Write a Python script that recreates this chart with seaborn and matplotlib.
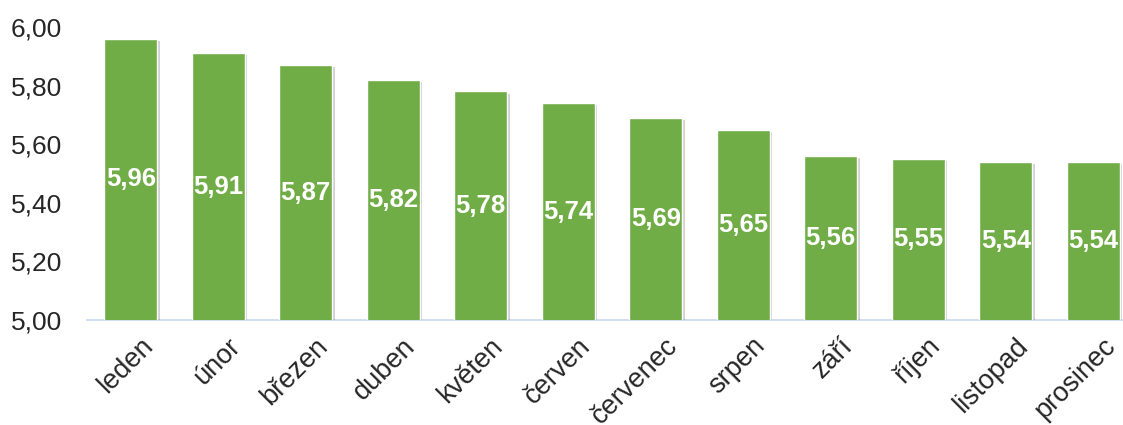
import matplotlib
matplotlib.use("Agg")
import matplotlib.pyplot as plt
import matplotlib.patheffects as pe
import seaborn as sns
import pandas as pd

months = ["leden", "únor", "březen", "duben", "květen", "červen",
          "červenec", "srpen", "září", "říjen", "listopad", "prosinec"]
values = [5.96, 5.91, 5.87, 5.82, 5.78, 5.74, 5.69, 5.65, 5.56, 5.55, 5.54, 5.54]
yticks = [5.00, 5.20, 5.40, 5.60, 5.80, 6.00]

sns.set_style("white")
plt.rcParams["font.family"] = ["Liberation Sans", "DejaVu Sans"]

df = pd.DataFrame({"month": months, "value": values})

fig = plt.figure(figsize=(11.23, 4.25), dpi=100)
ax = fig.add_axes([87 / 1123, 105 / 425, (1123 - 87) / 1123, 293 / 425])

sns.barplot(data=df, x="month", y="value", color="#70AD47", saturation=1,
            width=0.61, ax=ax)

base = yticks[0]
for bar, v in zip(ax.patches, values):
    bar.set_path_effects([pe.SimplePatchShadow(offset=(1.5, -1.5), shadow_rgbFace="#000000", alpha=0.18),
                          pe.Normal()])
    ax.text(bar.get_x() + bar.get_width() / 2, (base + v) / 2,
            f"{v:.2f}".replace(".", ","), ha="center", va="center",
            color="white", fontsize=18.5, fontweight="bold")

ax.set_ylim(5.0, 6.0)
ax.set_xlim(-0.5, 11.34)
ax.set_yticks(yticks)
ax.set_yticklabels([f"{t:.2f}".replace(".", ",") for t in yticks], fontsize=19)

# month names, slanted and nudged right of each bar centre
ax.set_xticks(range(len(months)))
ax.set_xticklabels([])
for i, m in enumerate(months):
    ax.annotate(m, xy=(i, 0), xycoords=ax.get_xaxis_transform(),
                xytext=(9, -13), textcoords="offset pixels",
                rotation=45, ha="right", va="top", rotation_mode="anchor",
                fontsize=19.5, annotation_clip=False)

ax.tick_params(axis="both", length=0)
ax.tick_params(axis="y", pad=18)
ax.set_xlabel("")
ax.set_ylabel("")
for side in ["top", "right", "left"]:
    ax.spines[side].set_visible(False)
ax.spines["bottom"].set_color("#C9D9EE")
ax.spines["bottom"].set_linewidth(1.2)
ax.spines["bottom"].set_zorder(0.5)

fig.savefig("out.png", dpi=100)
